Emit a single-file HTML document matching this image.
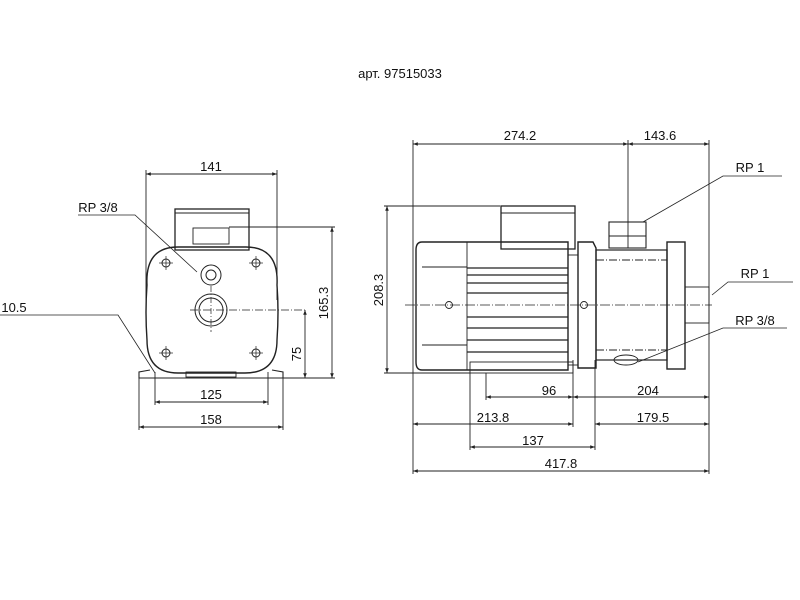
<!DOCTYPE html>
<html><head><meta charset="utf-8"><style>
html,body{margin:0;padding:0;background:#fff;}
svg{display:block;}
text{font-family:"Liberation Sans",sans-serif;font-size:13px;fill:#111;}
</style></head><body>
<svg width="800" height="600" viewBox="0 0 800 600" xmlns="http://www.w3.org/2000/svg">
<defs>
<marker id="a" viewBox="0 0 8 6" refX="8" refY="3" markerWidth="6" markerHeight="4" orient="auto-start-reverse"><path d="M0,0L8,3L0,6z" fill="#222"/></marker>
</defs>
<text x="400" y="78" text-anchor="middle" style="font-size:13px">арт. 97515033</text>

<g stroke="#222" stroke-width="0.9" fill="none">
<!-- LEFT VIEW -->
<line x1="146" y1="170" x2="146" y2="300"/>
<line x1="277" y1="170" x2="277" y2="300"/>
<line x1="146" y1="174" x2="277" y2="174" marker-start="url(#a)" marker-end="url(#a)"/>
<rect x="175" y="209" width="74" height="41" stroke-width="1.3"/>
<line x1="175" y1="213" x2="249" y2="213"/>
<rect x="193" y="228" width="36" height="16"/>
<path d="M178,247 H246 Q279,247 277,285 Q279,312 277,340 Q277,373 245,373 H178 Q147,373 147,340 Q145,312 147,285 Q145,247 178,247 Z" stroke-width="1.4"/>
<path d="M150,370 L139,372 L139,378 L283,378 L283,372 L272,370" stroke-width="1.1"/>
<rect x="186" y="372" width="50" height="5"/>
<g stroke-width="1">
<circle cx="166" cy="263" r="4"/><circle cx="256" cy="263" r="4"/>
<circle cx="166" cy="353" r="4"/><circle cx="256" cy="353" r="4"/>
<circle cx="211" cy="275" r="10"/><circle cx="211" cy="275" r="5"/>
<circle cx="211" cy="310" r="16"/><circle cx="211" cy="310" r="12"/>
</g>
<g stroke-width="0.7">
<line x1="166" y1="256" x2="166" y2="270"/><line x1="159" y1="263" x2="173" y2="263"/>
<line x1="256" y1="256" x2="256" y2="270"/><line x1="249" y1="263" x2="263" y2="263"/>
<line x1="166" y1="346" x2="166" y2="360"/><line x1="159" y1="353" x2="173" y2="353"/>
<line x1="256" y1="346" x2="256" y2="360"/><line x1="249" y1="353" x2="263" y2="353"/>
<line x1="211" y1="286" x2="211" y2="332" stroke-dasharray="6,2,1,2"/>
<line x1="190" y1="310" x2="305" y2="310" stroke-dasharray="8,2,1,2"/>
</g>
<line x1="229" y1="227" x2="335" y2="227"/>
<line x1="283" y1="378" x2="335" y2="378"/>
<line x1="332" y1="227" x2="332" y2="378" marker-start="url(#a)" marker-end="url(#a)"/>
<line x1="305" y1="310" x2="305" y2="378" marker-start="url(#a)" marker-end="url(#a)"/>
<line x1="155" y1="372" x2="155" y2="405"/><line x1="268" y1="372" x2="268" y2="405"/>
<line x1="155" y1="402" x2="268" y2="402" marker-start="url(#a)" marker-end="url(#a)"/>
<line x1="139" y1="378" x2="139" y2="430"/><line x1="283" y1="378" x2="283" y2="430"/>
<line x1="139" y1="427" x2="283" y2="427" marker-start="url(#a)" marker-end="url(#a)"/>
<polyline points="0,315 118,315 155,373" stroke-width="0.8"/>
<polyline points="78,215 135,215 197,272" stroke-width="0.8"/>

<!-- RIGHT VIEW -->
<line x1="413" y1="140" x2="413" y2="474"/>
<line x1="709" y1="140" x2="709" y2="474"/>
<line x1="628" y1="140" x2="628" y2="248"/>
<line x1="413" y1="144" x2="628" y2="144" marker-start="url(#a)" marker-end="url(#a)"/>
<line x1="628" y1="144" x2="709" y2="144" marker-start="url(#a)" marker-end="url(#a)"/>
<line x1="384" y1="206" x2="500" y2="206"/>
<line x1="384" y1="373" x2="470" y2="373"/>
<line x1="387" y1="206" x2="387" y2="373" marker-start="url(#a)" marker-end="url(#a)"/>
<rect x="501" y="206" width="74" height="43" stroke-width="1.3"/>
<line x1="501" y1="213" x2="575" y2="213"/>
<path d="M422,242 H568 V370 H422 Q416,370 416,362 V250 Q416,242 422,242 Z" stroke-width="1.4"/>
<line x1="467" y1="242" x2="467" y2="370"/>
<line x1="422" y1="267" x2="467" y2="267"/><line x1="422" y1="345" x2="467" y2="345"/>
<g stroke-width="1.3">
<line x1="467" y1="268" x2="568" y2="268"/><line x1="467" y1="275" x2="568" y2="275"/>
<line x1="467" y1="283" x2="568" y2="283"/><line x1="467" y1="293" x2="568" y2="293"/>
<line x1="467" y1="317" x2="568" y2="317"/><line x1="467" y1="328" x2="568" y2="328"/>
<line x1="467" y1="340" x2="568" y2="340"/><line x1="467" y1="352" x2="568" y2="352"/>
</g>
<rect x="470" y="362" width="103" height="11"/>
<rect x="568" y="255" width="10" height="110"/>
<path d="M578,242 H593 L596,248 V368 H578 Z" stroke-width="1.4"/>
<rect x="596" y="250" width="71" height="110" stroke-width="1.2"/>
<line x1="596" y1="260" x2="667" y2="260" stroke-dasharray="8,2,1,2"/>
<line x1="596" y1="350" x2="667" y2="350" stroke-dasharray="8,2,1,2"/>
<rect x="667" y="242" width="18" height="127" stroke-width="1.4"/>
<rect x="685" y="287" width="24" height="36"/>
<rect x="609" y="222" width="37" height="26" stroke-width="1.1"/>
<line x1="609" y1="236" x2="646" y2="236"/>
<ellipse cx="626" cy="360" rx="12" ry="5"/>
<line x1="405" y1="305" x2="712" y2="305" stroke-dasharray="10,2,1,2" stroke-width="0.7"/>
<circle cx="449" cy="305" r="3.5"/><circle cx="584" cy="305" r="3.5"/>
<line x1="486" y1="373" x2="486" y2="400"/><line x1="573" y1="360" x2="573" y2="427"/>
<line x1="470" y1="373" x2="470" y2="450"/><line x1="595" y1="360" x2="595" y2="450"/>
<line x1="486" y1="397" x2="573" y2="397" marker-start="url(#a)" marker-end="url(#a)"/>
<line x1="573" y1="397" x2="709" y2="397" marker-start="url(#a)" marker-end="url(#a)"/>
<line x1="413" y1="424" x2="573" y2="424" marker-start="url(#a)" marker-end="url(#a)"/>
<line x1="595" y1="424" x2="709" y2="424" marker-start="url(#a)" marker-end="url(#a)"/>
<line x1="470" y1="447" x2="595" y2="447" marker-start="url(#a)" marker-end="url(#a)"/>
<line x1="413" y1="471" x2="709" y2="471" marker-start="url(#a)" marker-end="url(#a)"/>
<polyline points="643,222 723,176 782,176" stroke-width="0.8"/>
<polyline points="712,295 728,282 793,282" stroke-width="0.8"/>
<polyline points="638,362 723,328 787,328" stroke-width="0.8"/>
</g>

<text x="211" y="171" text-anchor="middle">141</text>
<text x="98" y="212" text-anchor="middle">RP 3/8</text>
<text x="14" y="312" text-anchor="middle">10.5</text>
<text x="211" y="399" text-anchor="middle">125</text>
<text x="211" y="424" text-anchor="middle">158</text>
<text transform="translate(328,303) rotate(-90)" text-anchor="middle">165.3</text>
<text transform="translate(301,354) rotate(-90)" text-anchor="middle">75</text>

<text x="520" y="140" text-anchor="middle">274.2</text>
<text x="660" y="140" text-anchor="middle">143.6</text>
<text transform="translate(383,290) rotate(-90)" text-anchor="middle">208.3</text>
<text x="750" y="172" text-anchor="middle">RP 1</text>
<text x="755" y="278" text-anchor="middle">RP 1</text>
<text x="755" y="325" text-anchor="middle">RP 3/8</text>
<text x="549" y="395" text-anchor="middle">96</text>
<text x="648" y="395" text-anchor="middle">204</text>
<text x="493" y="422" text-anchor="middle">213.8</text>
<text x="653" y="422" text-anchor="middle">179.5</text>
<text x="533" y="445" text-anchor="middle">137</text>
<text x="561" y="468" text-anchor="middle">417.8</text>
</svg>
</body></html>
